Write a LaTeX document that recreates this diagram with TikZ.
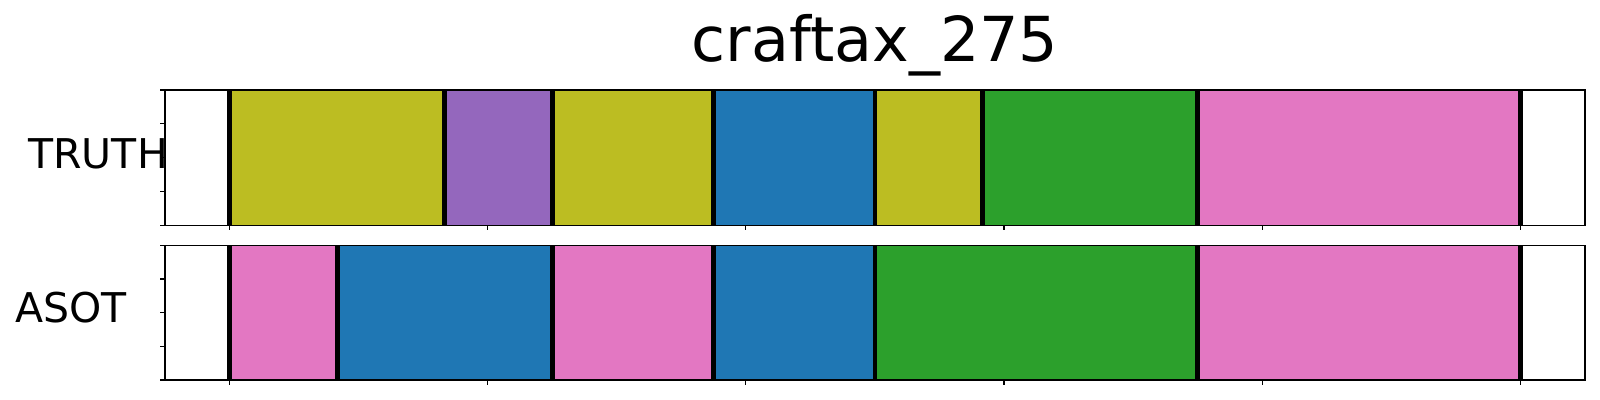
\documentclass[tikz,border=0pt]{standalone}
\usepackage{fontspec}
\setmainfont{DejaVu Sans}
\definecolor{tolive}{HTML}{BCBD22}
\definecolor{tpurple}{HTML}{9467BD}
\definecolor{tblue}{HTML}{1F77B4}
\definecolor{tgreen}{HTML}{2CA02C}
\definecolor{tpink}{HTML}{E377C2}
\begin{document}
\begin{tikzpicture}[x=0.5pt,y=-0.5pt,
  seg/.style={draw=none},
  bound/.style={line width=2.4pt,black},
  frame/.style={line width=0.6pt,black},
  tick/.style={line width=0.6pt,black},
  lbl/.style={font=\fontsize{20.5}{24}\selectfont,inner sep=0pt,anchor=base west}]
\useasboundingbox[fill=white] (0,0) rectangle (1600,400);
% title
\node[font=\fontsize{31}{37}\selectfont,inner sep=0pt,anchor=base] (title) at (875,62) {craftax\_275};
% labels
\node[lbl] (truth) at (28,169) {TRUTH};
\node[lbl] (asot) at (15,323) {ASOT};
% ---- TRUTH panel: y 90..225.3
\def\ta{90}\def\tb{225.3}
\fill[tolive]  (229.5,\ta) rectangle (444.6,\tb);
\fill[tpurple] (444.6,\ta) rectangle (552.2,\tb);
\fill[tolive]  (552.2,\ta) rectangle (713.5,\tb);
\fill[tblue]   (713.5,\ta) rectangle (874.9,\tb);
\fill[tolive]  (874.9,\ta) rectangle (982.4,\tb);
\fill[tgreen]  (982.4,\ta) rectangle (1197.5,\tb);
\fill[tpink]   (1197.5,\ta) rectangle (1520.2,\tb);
\foreach \x in {229.5,444.6,552.2,713.5,874.9,982.4,1197.5,1520.2}
  \draw[bound] (\x,\ta) -- (\x,\tb);
\draw[frame] (165,\ta) rectangle (1585,\tb);
\foreach \y in {90,123.8,157.65,191.5,225.3}
  \draw[tick] (165,\y) -- (160.3,\y);
\foreach \x in {229.5,487.6,745.8,1003.9,1262.1,1520.2}
  \draw[tick] (\x,\tb) -- (\x,230.3);
% ---- ASOT panel: y 245.3..380
\def\ba{245.3}\def\bb{380}
\fill[tpink]  (229.5,\ba) rectangle (337.1,\bb);
\fill[tblue]  (337.1,\ba) rectangle (552.2,\bb);
\fill[tpink]  (552.2,\ba) rectangle (713.5,\bb);
\fill[tblue]  (713.5,\ba) rectangle (874.9,\bb);
\fill[tgreen] (874.9,\ba) rectangle (1197.5,\bb);
\fill[tpink]  (1197.5,\ba) rectangle (1520.2,\bb);
\foreach \x in {229.5,337.1,552.2,713.5,874.9,1197.5,1520.2}
  \draw[bound] (\x,\ba) -- (\x,\bb);
\draw[frame] (165,\ba) rectangle (1585,\bb);
\foreach \y in {245.3,279,312.65,346.3,380}
  \draw[tick] (165,\y) -- (160.3,\y);
\foreach \x in {229.5,487.6,745.8,1003.9,1262.1,1520.2}
  \draw[tick] (\x,\bb) -- (\x,385);
\end{tikzpicture}
\end{document}
